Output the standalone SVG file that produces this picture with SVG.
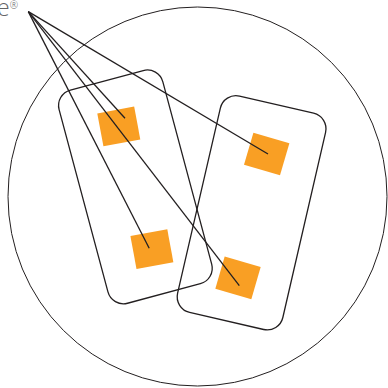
<svg xmlns="http://www.w3.org/2000/svg" width="388" height="388" viewBox="0 0 388 388">
  <style>
    .outline { fill: none; stroke: #231f20; stroke-width: 1.3; }
    .ring { fill: none; stroke: #231f20; stroke-width: 1; }
    .item { fill: #f99f24; stroke: none; }
    .link { fill: none; stroke: #231f20; stroke-width: 1.3; }
    .label { font-family: "Open Sans", "Liberation Sans", sans-serif; font-weight: 300; fill: #636466; }
  </style>
  <g id="universe">
    <circle class="ring" cx="197.5" cy="196.5" r="189.5"/>
  </g>
  <g id="group-left">
    <rect class="outline" x="-53.7" y="-110.35" width="107.4" height="220.7" rx="16" transform="translate(135.4,186.9) rotate(-15)"/>
  </g>
  <g id="group-right">
    <rect class="outline" x="-54" y="-111" width="108" height="222" rx="16" transform="translate(251.6,212.8) rotate(13)"/>
  </g>
  <g id="item-1">
    <rect class="item" x="-18.75" y="-16.75" width="37.5" height="33.5" transform="translate(118.8,126.4) rotate(-10.6)"/>
  </g>
  <g id="item-2">
    <rect class="item" x="-18.75" y="-16.75" width="37.5" height="33.5" transform="translate(151.9,249.1) rotate(-10.5)"/>
  </g>
  <g id="item-3">
    <rect class="item" x="-18.75" y="-16.75" width="37.5" height="33.5" transform="translate(266.7,154) rotate(16.3)"/>
  </g>
  <g id="item-4">
    <rect class="item" x="-18.75" y="-16.75" width="37.5" height="33.5" transform="translate(238,277.9) rotate(16.2)"/>
  </g>
  <g id="source">
    <text class="label" x="-3" y="16" font-size="23">e<tspan font-size="10" dy="-7">®</tspan></text>
  </g>
  <g id="connectors">
    <line class="link" x1="28.3" y1="11.6" x2="125" y2="118.3"/>
    <line class="link" x1="28.3" y1="11.6" x2="149.2" y2="248.3"/>
    <line class="link" x1="28.3" y1="11.6" x2="268" y2="154"/>
    <line class="link" x1="28.3" y1="11.6" x2="239.3" y2="285.7"/>
  </g>
</svg>
